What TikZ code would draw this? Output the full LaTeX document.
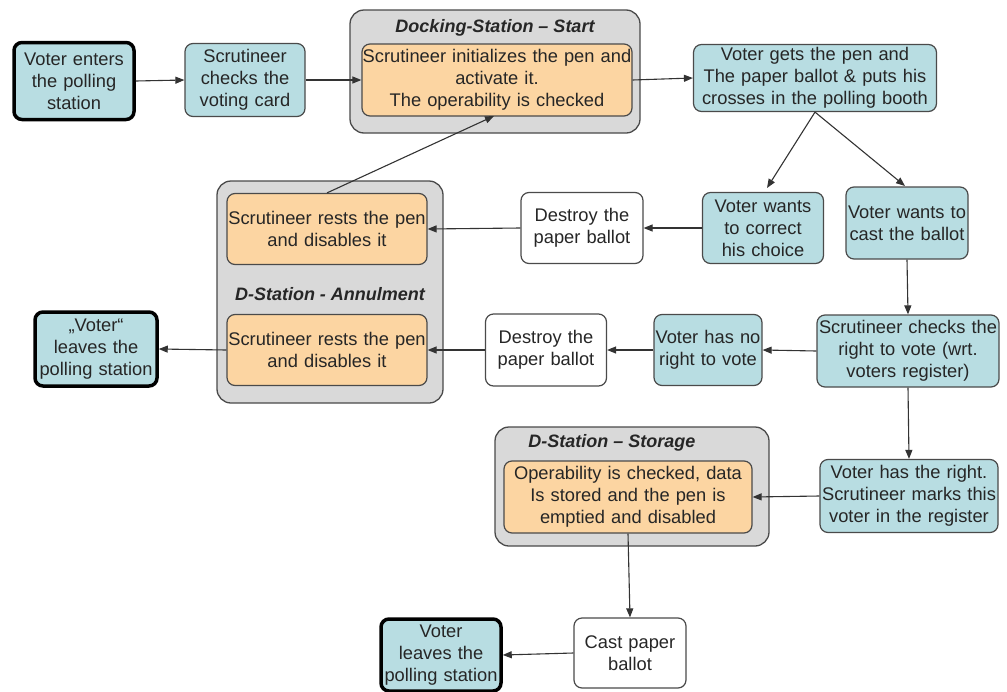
\documentclass[tikz,border=0pt]{standalone}
\usepackage{fontspec}
\setmainfont{Liberation Sans}
\usetikzlibrary{arrows.meta}
\definecolor{bluefill}{HTML}{B8DDE2}
\definecolor{orangefill}{HTML}{FCD5A2}
\definecolor{grayfill}{HTML}{D9D9D9}
\definecolor{edgegray}{HTML}{4A4A4A}
\tikzset{
  base/.style={rectangle, rounded corners=8pt, align=center, inner sep=0pt,
    font=\fontsize{18.3}{22}\selectfont, text=black!85},
  bluebox/.style={base, fill=bluefill, draw=edgegray, line width=1.2pt},
  endbox/.style={base, fill=bluefill, draw=black, line width=3.5pt},
  whitebox/.style={base, fill=white, draw=edgegray, line width=1.2pt},
  orangebox/.style={base, fill=orangefill, draw=edgegray, line width=1.2pt},
  graybox/.style={rectangle, rounded corners=14pt, fill=grayfill, draw=edgegray, line width=1.3pt},
  title/.style={font=\fontsize{18}{20}\selectfont\bfseries\itshape, text=black!85, inner sep=0pt},
  arr/.style={-{Triangle[length=9pt,width=7pt]}, line width=1.1pt, draw=black!80},
}
\begin{document}
\begin{tikzpicture}[x=1pt,y=-1pt]
\useasboundingbox (0,0) rectangle (1007,691);

% grey station boxes
\node[graybox, minimum width=290, minimum height=123] (dockbg) at (495,71.5) {};
\node[title] (docktitle) at (495,28) {Docking-Station -- Start};
\node[graybox, minimum width=226, minimum height=222] (annbg) at (330,292) {};
\node[title] (anntitle) at (330,294) {D-Station - Annulment};
\node[graybox, minimum width=274, minimum height=119] (storbg) at (632,486.5) {};
\node[title] (stortitle) at (612,443) {D-Station -- Storage};

% nodes
\node[endbox, minimum width=120, minimum height=77, text width=120] (enter) at (74,81) {Voter enters\\the polling\\station};
\node[bluebox, minimum width=120, minimum height=73, text width=120] (card) at (245,80) {Scrutineer\\checks the\\voting card};
\node[orangebox, minimum width=270, minimum height=72, text width=270] (init) at (497,80) {Scrutineer initializes the pen and\\activate it.\\The operability is checked};
\node[bluebox, minimum width=243, minimum height=67, text width=243] (gets) at (815,78) {Voter gets the pen and\\The paper ballot \& puts his\\crosses in the polling booth};
\node[bluebox, minimum width=121, minimum height=71, text width=121] (correct) at (763,228) {Voter wants\\to correct\\his choice};
\node[bluebox, minimum width=122, minimum height=72, text width=122] (cast) at (907,223) {Voter wants to\\cast the ballot};
\node[whitebox, minimum width=122, minimum height=71, text width=122] (destroy1) at (582,228) {Destroy the\\paper ballot};
\node[orangebox, minimum width=200, minimum height=71, text width=200] (reset1) at (327,229) {Scrutineer rests the pen\\and disables it};
\node[orangebox, minimum width=200, minimum height=71, text width=200] (reset2) at (327,350) {Scrutineer rests the pen\\and disables it};
\node[endbox, minimum width=122, minimum height=74, text width=122] (leave1) at (96,349) {„Voter“\\leaves the\\polling station};
\node[whitebox, minimum width=121, minimum height=72, text width=121] (destroy2) at (546,350) {Destroy the\\paper ballot};
\node[bluebox, minimum width=108, minimum height=71, text width=108] (noright) at (708,350) {Voter has no\\right to vote};
\node[bluebox, minimum width=182, minimum height=72, text width=182] (check) at (908,351) {Scrutineer checks the\\right to vote (wrt.\\voters register)};
\node[bluebox, minimum width=178, minimum height=73, text width=178] (right) at (909,496) {Voter has the right.\\Scrutineer marks this\\voter in the register};
\node[orangebox, minimum width=248, minimum height=72, text width=248] (store) at (628,497) {Operability is checked, data\\Is stored and the pen is\\emptied and disabled};
\node[whitebox, minimum width=112, minimum height=70, text width=112] (paper) at (630,653) {Cast paper\\ballot};
\node[endbox, minimum width=120, minimum height=72, text width=120] (leave2) at (441,655) {Voter\\leaves the\\polling station};

% connectors
\draw[arr] (enter.east) -- (card.west);
\draw[arr] (card.east) -- (init.west);
\draw[arr] (init.east) -- (gets.west);
\draw[arr] (gets.south) -- (767,188);
\draw[arr] (gets.south) -- (905,186);
\draw[arr] (correct.west) -- (destroy1.east);
\draw[arr] (destroy1.west) -- (reset1.east);
\draw[arr] (reset1.north) -- (494,116);
\draw[arr] (cast.south) -- (check.north);
\draw[arr] (check.west) -- (noright.east);
\draw[arr] (noright.west) -- (destroy2.east);
\draw[arr] (destroy2.west) -- (reset2.east);
\draw[arr] (reset2.west) -- (leave1.east);
\draw[arr] (check.south) -- (right.north);
\draw[arr] (right.west) -- (store.east);
\draw[arr] (store.south) -- (paper.north);
\draw[arr] (paper.west) -- (leave2.east);
\end{tikzpicture}
\end{document}
